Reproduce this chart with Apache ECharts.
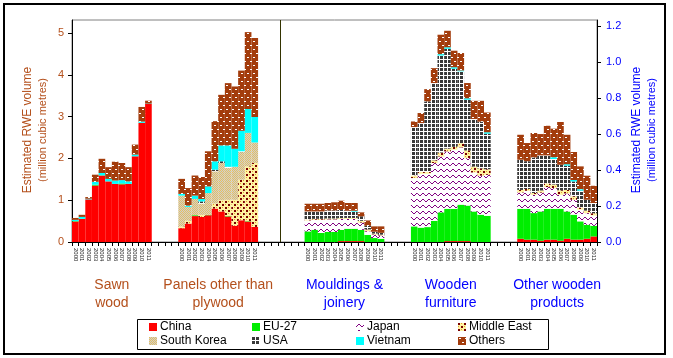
<!DOCTYPE html>
<html><head><meta charset="utf-8">
<script src="https://cdn.jsdelivr.net/npm/echarts@6/dist/echarts.min.js"></script>
<style>html,body{margin:0;padding:0;background:#fff}#c{width:673px;height:358px}</style>
</head><body><div id="c"></div>
<script>
// ---------- data ----------
const years = ['2000','2001','2002','2003','2004','2005','2006','2007','2008','2009','2010','2011'];
const groups = ['Sawn\nwood','Panels other than\nplywood','Mouldings &\njoinery','Wooden\nfurniture','Other wooden\nproducts'];
const groupAxis = [0, 0, 1, 1, 1];           // 0 = left axis, 1 = right axis
const countries = ['China','EU-27','Japan','Middle East','South Korea','USA','Vietnam','Others'];
const leftTicks = [0, 1, 2, 3, 4, 5];
const rightTicks = ['0.0','0.2','0.4','0.6','0.8','1.0','1.2'];

// each array: Sawn wood(12) | Panels(12) | Mouldings(12) | Furniture(12) | Other(12)
const china = [
  0.49,0.55,1.02,1.35,1.59,1.45,1.39,1.38,1.39,2.05,2.85,3.30,
  0.33,0.44,0.62,0.60,0.64,0.80,0.73,0.61,0.39,0.52,0.49,0.36,
  0,0,0,0,0,0.005,0.005,0.005,0.005,0,0,0,
  0,0,0,0,0,0.005,0.005,0.005,0.005,0,0,0,
  0.018,0.013,0.013,0.007,0.013,0.013,0.007,0.018,0.013,0.013,0.018,0.031];
const eu27 = [
  0.01,0.005,0,0.02,0.005,0,0,0.02,0,0,0,0,
  0,0,0.02,0,0.01,0,0,0.01,0,0,0.01,0,
  0.059,0.068,0.05,0.056,0.056,0.063,0.069,0.069,0.063,0.04,0.022,0.018,
  0.087,0.08,0.083,0.118,0.165,0.18,0.18,0.203,0.198,0.17,0.152,0.146,
  0.167,0.172,0.148,0.163,0.172,0.172,0.178,0.152,0.139,0.102,0.078,0.059];
const japan = [
  0,0,0,0,0,0,0,0,0,0,0,0,
  0,0,0,0,0,0,0,0,0,0,0,0,
  0.061,0.056,0.074,0.07,0.07,0.06,0.055,0.055,0.04,0.02,0.02,0.018,
  0.269,0.30,0.297,0.322,0.311,0.319,0.329,0.319,0.264,0.217,0.217,0.228,
  0.091,0.10,0.102,0.105,0.121,0.115,0.078,0.10,0.083,0.065,0.065,0.058];
const middleEast = [
  0,0,0,0,0,0,0,0,0,0,0,0,
  0.04,0.07,0,0.05,0,0.12,0.27,0.39,0.62,0.97,1.31,1.53,
  0.005,0.005,0.005,0.005,0.005,0.005,0.005,0.005,0.01,0.01,0.005,0.005,
  0.014,0.01,0.01,0.015,0.022,0.016,0.016,0.023,0.043,0.033,0.041,0.031,
  0.014,0.01,0.01,0.012,0.02,0.02,0.025,0.02,0.02,0.012,0.014,0.012];
const southKorea = [
  0,0,0,0,0,0,0,0,0,0,0,0,
  0.74,0.33,0.39,0.27,0.52,0.77,0.89,0.76,0.79,0.66,0.80,0.49,
  0,0,0,0,0,0,0,0,0,0,0,0,
  0,0,0,0,0,0,0,0,0,0,0,0,
  0,0,0,0,0,0,0,0,0,0,0,0];
const usa = [
  0,0,0,0,0,0,0,0,0,0,0,0,
  0,0,0,0.05,0,0.04,0.04,0.03,0,0.02,0,0,
  0.045,0.041,0.041,0.045,0.045,0.045,0.04,0.035,0.025,0.02,0.01,0.01,
  0.27,0.272,0.393,0.43,0.54,0.556,0.435,0.40,0.282,0.265,0.26,0.198,
  0.168,0.155,0.198,0.195,0.156,0.142,0.142,0.135,0.082,0.094,0.06,0.057];
const vietnam = [
  0.03,0.045,0.015,0.07,0.055,0.06,0.08,0.08,0.06,0.04,0.03,0.01,
  0.04,0.03,0.08,0.06,0.16,0.20,0.38,0.51,0.43,0.49,0.57,0.61,
  0,0,0,0,0,0,0,0.005,0,0,0,0,
  0,0,0,0,0.008,0.008,0.008,0.005,0.008,0,0,0.008,
  0,0,0,0,0,0.01,0,0.008,0.008,0.008,0,0];
const others = [
  0.045,0.05,0.04,0.17,0.34,0.28,0.45,0.41,0.34,0.24,0.35,0.07,
  0.36,0.42,0.48,0.525,0.84,0.96,1.21,1.49,1.49,1.44,1.84,1.89,
  0.043,0.043,0.043,0.041,0.045,0.052,0.043,0.043,0.022,0.03,0.03,0.036,
  0.031,0.056,0.068,0.083,0.108,0.092,0.092,0.097,0.085,0.101,0.116,0.11,
  0.139,0.101,0.136,0.119,0.165,0.159,0.238,0.164,0.156,0.127,0.134,0.096];
const seriesValues = [china, eu27, japan, middleEast, southKorea, usa, vietnam, others];

// ---------- layout ----------
const groupStart = [0, 16, 35, 51, 67];
const totalSlots = 79;
const FONT = "'Liberation Sans', Arial, sans-serif";
const BROWN = '#B4501C', BLUE = '#0000FF';

// ---------- fill patterns ----------
function pat(w, h, bg, dots) {
  const c = document.createElement('canvas'); c.width = w; c.height = h;
  const x = c.getContext('2d'); x.fillStyle = bg; x.fillRect(0, 0, w, h);
  dots.forEach(d => { x.fillStyle = d[0]; x.fillRect(d[1], d[2], d[3], d[4]); });
  return { image: c, repeat: 'repeat' };
}
const P = '#800080';
const fills = [
  '#FF0000',
  '#00EE00',
  pat(6, 6, '#FFFFFF', [[P,0,3,1,1],[P,1,2,1,1],[P,2,1,1,1],[P,3,1,1,1],[P,4,2,1,1],[P,5,3,1,1]]),
  pat(6, 6, '#FFF2A0', [['#7A0000',0,0,2,2],['#7A0000',3,3,2,2],['#E0A030',3,0,1,1],['#E0A030',0,3,1,1]]),
  pat(2, 2, '#CFCFCF', [['#E6C060',0,0,1,1],['#E6C060',1,1,1,1]]),
  pat(4, 4, '#FFFFFF', [['#383838',0,0,3,3]]),
  '#00FFFF',
  pat(6, 8, '#A33C0C', [['#FFFFFF',1,1,2,1],['#FFFFFF',4,5,2,1]])
];

// ---------- categories ----------
const cats = [];
for (let s = 0; s < totalSlots; s++) {
  let lab = 'gap' + s;
  groupStart.forEach((st, g) => { if (s >= st && s < st + 12) lab = g + '|' + years[s - st]; });
  cats.push(lab);
}

const series = [];
countries.forEach((name, ci) => {
  [0, 1].forEach(ax => {
    const data = cats.map((c, s) => {
      for (let g = 0; g < groupStart.length; g++) {
        if (s >= groupStart[g] && s < groupStart[g] + 12 && groupAxis[g] === ax)
          return seriesValues[ci][g * 12 + s - groupStart[g]];
      }
      return null;
    });
    series.push({
      name, type: 'bar', stack: ax ? 'R' : 'L', yAxisIndex: ax,
      barWidth: '100%', barGap: '-100%', data,
      itemStyle: { color: fills[ci] }, emphasis: { disabled: true }, animation: false
    });
  });
});

const legendCols = [['China','South Korea'],['EU-27','USA'],['Japan','Vietnam'],['Middle East','Others']];
const legendX = [149, 252, 356, 458];

const chart = echarts.init(document.getElementById('c'), null, { renderer: 'canvas' });
chart.setOption({
  animation: false,
  backgroundColor: '#fff',
  textStyle: { fontFamily: FONT },
  grid: { left: 72, right: 76, top: 20, bottom: 116, show: true, borderColor: '#808080', borderWidth: 1, backgroundColor: 'transparent' },
  legend: legendCols.map((d, i) => ({
    data: d, left: legendX[i], top: 321, orient: 'vertical', padding: 0,
    itemWidth: 8, itemHeight: 8, itemGap: 2, icon: 'rect', selectedMode: false,
    textStyle: { fontSize: 12, color: '#000', fontFamily: FONT, padding: [0, 0, 0, -2] }
  })),
  xAxis: {
    type: 'category', data: cats, boundaryGap: true,
    axisLine: { lineStyle: { color: '#000', width: 1 } },
    axisTick: { show: true, interval: 0, length: 4, lineStyle: { color: '#000' } },
    axisLabel: { interval: 0, rotate: -90, fontSize: 6, margin: 6, color: '#222',
      formatter: v => (v.indexOf('|') >= 0 ? v.split('|')[1] : '') },
    splitLine: { show: false }
  },
  yAxis: [
    { type: 'value', position: 'left', min: 0, max: 5.31, interval: 1,
      axisLine: { show: true, lineStyle: { color: '#000' } },
      axisTick: { show: true, length: 4, lineStyle: { color: '#000' } },
      axisLabel: { fontSize: 11, color: BROWN, margin: 8, showMaxLabel: false,
        formatter: v => (leftTicks.indexOf(v) >= 0 ? String(v) : '') },
      splitLine: { show: false } },
    { type: 'value', position: 'right', min: 0, max: 1.236, interval: 0.2,
      axisLine: { show: true, lineStyle: { color: '#000' } },
      axisTick: { show: true, length: 4, lineStyle: { color: '#000' } },
      axisLabel: { fontSize: 11, color: BLUE, margin: 9, showMaxLabel: false,
        formatter: v => { const t = v.toFixed(1); return rightTicks.indexOf(t) >= 0 ? t : ''; } },
      splitLine: { show: false } }
  ],
  series
});

// ---------- decorations positioned from the axis ----------
const px = i => chart.convertToPixel({ xAxisIndex: 0 }, cats[i]);
const graphics = [];
groups.forEach((g, gi) => {
  const cx = (px(groupStart[gi] + 5) + px(groupStart[gi] + 6)) / 2;
  graphics.push({ type: 'text', x: cx, y: 276, silent: true,
    style: { text: g, fill: groupAxis[gi] ? BLUE : BROWN, font: '14px ' + FONT,
      align: 'center', verticalAlign: 'top', lineHeight: 18 } });
});
const divX = Math.round(px(31)) - 0.5;
const y0 = chart.convertToPixel({ yAxisIndex: 0 }, 0);
graphics.push({ type: 'line', silent: true, shape: { x1: divX, y1: 20, x2: divX, y2: y0 },
  style: { stroke: '#333300', lineWidth: 1 } });
// axis titles
[[28, 'Estimated RWE volume', 12, BROWN], [43, '(million cubic metres)', 11, BROWN],
 [637, 'Estimated RWE volume', 12, BLUE], [652, '(million cubic metres)', 11, BLUE]].forEach(t => {
  graphics.push({ type: 'text', x: t[0], y: 130, rotation: Math.PI / 2, silent: true,
    style: { text: t[1], fill: t[3], font: t[2] + 'px ' + FONT, align: 'center', verticalAlign: 'middle' } });
});
// legend box & outer frame
graphics.push({ type: 'rect', silent: true, shape: { x: 137.5, y: 319.5, width: 411, height: 30 },
  style: { fill: 'none', stroke: '#000', lineWidth: 1 } });
graphics.push({ type: 'rect', silent: true, shape: { x: 4, y: 4, width: 661, height: 350 },
  style: { fill: 'none', stroke: '#000', lineWidth: 2 } });
chart.setOption({ graphic: graphics });
</script></body></html>
